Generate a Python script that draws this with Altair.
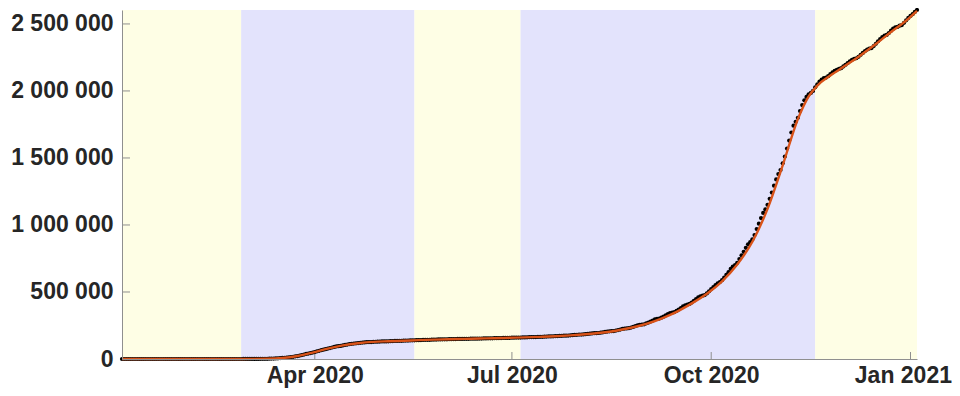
import altair as alt
import pandas as pd

# ---------------- data (cumulative cases, thousands) ----------------
jan20 = [0, 0, 0, 0, 0, 0, 0, 0, 0, 0, 0, 0, 0, 0, 0, 0, 0, 0, 0, 0, 0, 0, 0, 0, 0, 0, 0, 0, 0]  # Jan 3 - Jan 31
feb20 = [0, 0, 0, 0, 0, 0, 0, 0, 0, 0, 0, 0, 0, 0, 0, 0, 0, 0, 0, 0, 0, 0, 0, 0, 0.01, 0.01, 0.02, 0.04, 0.06]
mar20 = [0.13, 0.19, 0.21, 0.29, 0.42, 0.61, 0.95, 1.13, 1.41, 1.78, 2.28, 2.88, 3.66, 4.50, 5.42, 6.63,
         7.73, 9.13, 10.99, 12.61, 14.46, 16.02, 19.86, 22.30, 25.23, 29.16, 32.96, 37.58, 40.17, 44.55, 48.0]
apr20 = [52.1, 57.0, 61.5, 66.0, 69.5, 73.5, 77.6, 81.6, 85.8, 90.0, 93.3, 95.2, 97.8, 101.5, 105.0,
         108.0, 111.2, 113.5, 115.4, 117.0, 118.8, 120.6, 122.4, 123.9, 125.3, 126.0, 126.8, 127.8, 128.7, 129.6]
may20 = [130.2, 130.7, 131.0, 131.3, 132.0, 132.9, 133.9, 134.7, 135.0, 135.3, 135.6, 136.3, 137.2, 138.0,
         138.9, 139.5, 139.8, 140.3, 140.8, 141.5, 142.3, 142.8, 143.4, 143.6, 144.0, 144.6, 145.2, 145.7,
         146.3, 146.6, 146.8]
jun20 = [147.1, 147.6, 148.2, 148.6, 149.0, 149.3, 149.5, 149.8, 150.2, 150.6, 151.0, 151.3, 151.5, 151.7,
         152.0, 152.4, 152.9, 153.3, 153.8, 154.1, 154.3, 154.6, 155.1, 155.6, 156.1, 156.6, 157.0, 157.2,
         157.6, 158.1]
jul20 = [158.7, 159.3, 159.8, 160.1, 160.3, 160.7, 161.3, 162.0, 162.8, 163.4, 163.8, 164.0, 164.5, 165.1,
         165.9, 166.8, 167.6, 168.1, 168.4, 169.1, 170.0, 171.2, 172.3, 173.4, 174.0, 174.4, 175.3, 176.6,
         178.0, 179.5, 180.9]
aug20 = [182.0, 182.5, 183.6, 185.0, 186.8, 188.7, 190.8, 192.2, 192.8, 194.0, 196.4, 199.0, 201.8, 204.7,
         206.5, 207.3, 208.8, 212.3, 215.9, 220.0, 224.2, 226.8, 227.8, 229.9, 234.4, 239.4, 245.3, 251.5,
         255.2, 256.5, 259.1]
sep20 = [266, 272, 279, 287, 295, 299, 302, 308, 316, 325, 334, 342, 346, 350, 359, 369, 380, 392, 401, 406,
         411, 421, 434, 446, 459, 468, 472, 477, 489, 505]
oct20 = [522, 536, 552, 565, 574, 588, 608, 628, 648, 672, 690, 700, 718, 746, 774, 800, 830, 856, 872, 892,
         925, 970, 1010, 1052, 1090, 1116, 1150, 1195, 1242, 1293, 1340]
nov20 = [1380, 1410, 1460, 1510, 1570, 1630, 1690, 1741, 1770, 1800, 1850, 1895, 1930, 1955, 1975, 1985,
         2000, 2027, 2050, 2070, 2085, 2095, 2100, 2110, 2125, 2138, 2150, 2158, 2164, 2170]
dec20 = [2183, 2195, 2208, 2221, 2232, 2240, 2244, 2255, 2270, 2284, 2298, 2309, 2316, 2320, 2335, 2352,
         2370, 2387, 2402, 2412, 2418, 2432, 2450, 2465, 2475, 2478, 2487, 2492, 2508, 2527, 2545]
jan21 = [2560, 2573, 2590, 2604]

fit_dates = ["2020-01-03", "2020-02-14", "2020-02-28", "2020-03-10", "2020-03-17", "2020-03-24",
             "2020-03-31", "2020-04-07", "2020-04-14", "2020-04-21", "2020-04-28", "2020-05-05",
             "2020-05-12", "2020-05-19", "2020-05-26", "2020-06-02", "2020-06-09", "2020-06-16",
             "2020-06-23", "2020-06-30", "2020-07-07", "2020-07-14", "2020-07-21", "2020-07-28",
             "2020-08-04", "2020-08-11", "2020-08-18", "2020-08-25", "2020-09-01", "2020-09-08",
             "2020-09-15", "2020-09-22", "2020-09-29", "2020-10-06", "2020-10-13", "2020-10-20",
             "2020-10-27", "2020-11-03", "2020-11-10", "2020-11-15", "2020-11-19", "2020-11-25",
             "2020-12-02", "2020-12-09", "2020-12-16", "2020-12-23", "2020-12-30", "2021-01-04"]
fit_values = [0, 0, 0.5, 2, 7, 22, 47, 78, 102, 118, 128, 132.5, 136.5, 140.5, 144.5, 147.6, 150.2, 152.5,
              155.0, 158.0, 161.3, 165.1, 170.0, 176.6, 185.0, 196.0, 211.0, 233.0, 262.0, 302.0, 352.0,
              415.0, 487.0, 580.0, 705.0, 875.0, 1120.0, 1445.0, 1790.0, 1960.0, 2040.0, 2115.0, 2190.0,
              2267.0, 2350.0, 2440.0, 2525.0, 2598.0]

band_starts = ["2020-01-03", "2020-02-27", "2020-05-17", "2020-07-05", "2020-11-18"]
band_ends = ["2020-02-27", "2020-05-17", "2020-07-05", "2020-11-18", "2021-01-04"]
band_colors = ["#FEFEE5", "#E3E3FC", "#FEFEE5", "#E3E3FC", "#FEFEE5"]

x_ticks = ["2020-04-01", "2020-07-01", "2020-10-01", "2021-01-01"]
y_ticks = [0, 500000, 1000000, 1500000, 2000000, 2500000]

# ---------------- tables ----------------
values_k = jan20 + feb20 + mar20 + apr20 + may20 + jun20 + jul20 + aug20 + sep20 + oct20 + nov20 + dec20 + jan21
dates = pd.date_range("2020-01-03", periods=len(values_k), freq="D")
obs = pd.DataFrame({"date": dates, "cases": [v * 1000 for v in values_k]})
fit = pd.DataFrame({"date": pd.to_datetime(fit_dates), "cases": [v * 1000 for v in fit_values]})
bands = pd.DataFrame({"start": pd.to_datetime(band_starts), "end": pd.to_datetime(band_ends), "color": band_colors})
xt = pd.DataFrame({"date": pd.to_datetime(x_ticks)})
yt = pd.DataFrame({"v": y_ticks})

W, H = 795, 349
d0, d1 = dates[0], dates[-1]
x_scale = alt.Scale(
    domain=[alt.DateTime(year=d0.year, month=d0.month, date=d0.day),
            alt.DateTime(year=d1.year, month=d1.month, date=d1.day)],
    nice=False)
y_scale = alt.Scale(domain=[0, max(obs["cases"])], nice=False)

FONT = "Liberation Sans"
LABEL = "#262626"
AXISC = "#8f8f8f"

x_axis = alt.Axis(values=[alt.DateTime(year=int(d[:4]), month=int(d[5:7]), date=int(d[8:])) for d in x_ticks],
                  format="%b %Y", title=None, ticks=False, grid=False, labelFont=FONT, labelFontSize=23,
                  labelFontWeight="bold", labelColor=LABEL, labelPadding=5, domainColor=AXISC, zindex=1,
                  labelFlush=10, labelFlushOffset=41)
y_axis = alt.Axis(values=y_ticks, title=None, ticks=False, grid=False, labelFont=FONT, labelFontSize=23,
                  labelFontWeight="bold", labelColor=LABEL, labelPadding=9, domainColor=AXISC, zindex=1,
                  labelExpr="replace(replace(format(datum.value, ','), ',', ' '), ',', ' ')")

band_layer = alt.Chart(bands).mark_rect().encode(
    x=alt.X("start:T", scale=x_scale, axis=x_axis),
    x2="end:T",
    color=alt.Color("color:N", scale=None),
)

xtick_layer = alt.Chart(xt).mark_rule(color=AXISC, strokeWidth=1).encode(
    x=alt.X("date:T", scale=x_scale),
    y=alt.value(H - 7), y2=alt.value(H),
)
ytick_layer = alt.Chart(yt).mark_rule(color=AXISC, strokeWidth=1).encode(
    y=alt.Y("v:Q", scale=y_scale, axis=y_axis),
    x=alt.value(0), x2=alt.value(8),
)

dots = alt.Chart(obs).mark_circle(size=18, color="#000000", opacity=1).encode(
    x=alt.X("date:T", scale=x_scale),
    y=alt.Y("cases:Q", scale=y_scale),
)

fit_line = alt.Chart(fit).mark_line(color="#D95319", strokeWidth=2.4, interpolate="monotone").encode(
    x=alt.X("date:T", scale=x_scale),
    y=alt.Y("cases:Q", scale=y_scale),
)

chart = alt.layer(band_layer, xtick_layer, ytick_layer, dots, fit_line).properties(
    width=W, height=H,
    autosize=alt.AutoSizeParams(type="none"),
    padding={"left": 114, "top": 2, "right": 35, "bottom": 29},
).configure_view(strokeWidth=0)

chart.save("out.html", embed_options={"renderer": "svg", "actions": False})
